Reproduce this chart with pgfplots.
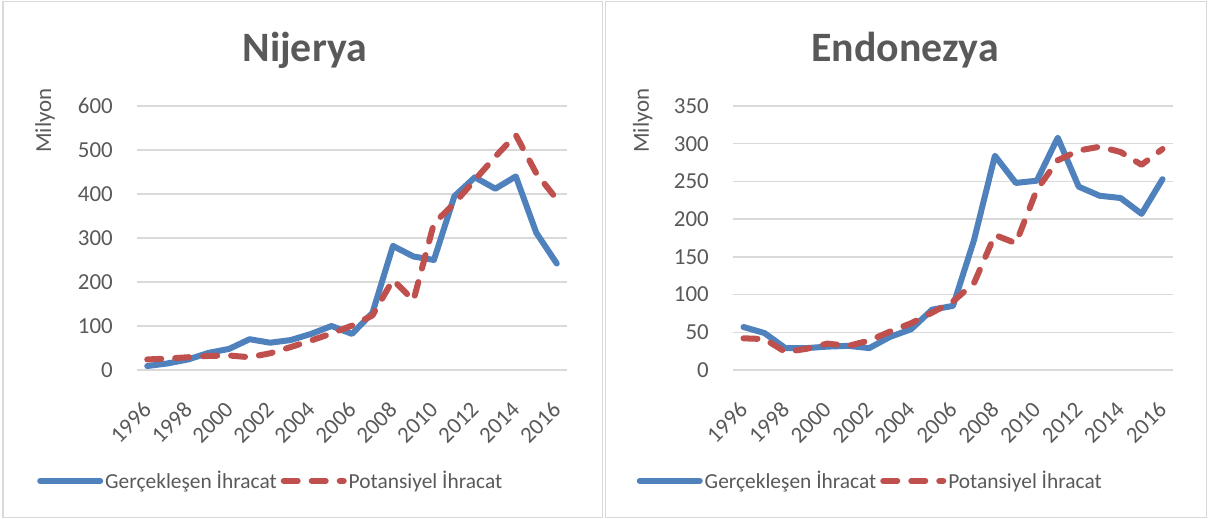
\documentclass[border=0pt]{standalone}
\usepackage{fontspec}
\setmainfont{Carlito}
\usepackage{pgfplots}
\pgfplotsset{compat=1.18}
\definecolor{cblue}{HTML}{4F81BD}
\definecolor{cred}{HTML}{C0504D}
\definecolor{ctext}{HTML}{595959}
\definecolor{cgrid}{HTML}{D9D9D9}
\pgfplotsset{
  panel/.style={
    scale only axis, height=264bp,
    xmin=1995.5, xmax=2016.5, ymin=0,
    clip mode=individual,
    axis line style={draw=none},
    major tick length=0pt,
    ymajorgrids, grid style={cgrid, line width=1.5bp},
    xtick={1996,1998,...,2016},
    xticklabels={1996,1998,2000,2002,2004,2006,2008,2010,2012,2014,2016},
    tick label style={font=\fontsize{23}{27}\selectfont, text=ctext},
    /pgf/number format/assume math mode=true,
    yticklabel style={inner sep=0pt, xshift=-24bp},
    xticklabel style={inner sep=0pt, xshift=0bp, yshift=-36bp, rotate=45, anchor=east},
    legend columns=2,
    legend style={draw=none, fill=none, font=\fontsize{21.5}{26}\selectfont, text=ctext,
      anchor=center, /tikz/every even column/.append style={column sep=2bp},
      /tikz/every odd column/.append style={column sep=0bp}},
    legend image code/.code={\draw[#1] (0bp,0bp) -- (60bp,0bp);},
  },
  blueline/.style={cblue, line width=6bp, line join=round, line cap=round, mark=none},
  redline/.style={cred, line width=6bp, line join=round, line cap=round, mark=none, dash pattern=on 14bp off 14bp},
}
\begin{document}
\begin{tikzpicture}
\useasboundingbox (0bp,0bp) rectangle (1208bp,519bp);
\draw[cgrid, line width=1.2bp] (3bp,1.5bp) rectangle (602.5bp,517.5bp);
\draw[cgrid, line width=1.2bp] (605.5bp,1.5bp) rectangle (1206.5bp,517.5bp);

\begin{axis}[panel, at={(137bp,149bp)}, anchor=south west, width=430bp,
  ymax=600, ytick={0,100,...,600},
  legend style={at={(axis description cs:0.311,-0.42)}}]
\addplot[blueline] coordinates {
(1996,9) (1997,15) (1998,24) (1999,39) (2000,48) (2001,70) (2002,62) (2003,68) (2004,82) (2005,100) (2006,82) (2007,130) (2008,282) (2009,258) (2010,250) (2011,395) (2012,438) (2013,412) (2014,440) (2015,312) (2016,242)};
\addlegendentry{Gerçekleşen İhracat}
\addplot[redline] coordinates {
(1996,24) (1997,26) (1998,29) (1999,32) (2000,33) (2001,29) (2002,38) (2003,52) (2004,67) (2005,83) (2006,101) (2007,124) (2008,205) (2009,158) (2010,333) (2011,379) (2012,432) (2013,485) (2014,534) (2015,447) (2016,388)};
\addlegendentry{Potansiyel İhracat}
\node[font=\fontsize{23}{27}\selectfont, text=ctext, rotate=90] at (axis description cs:-0.214,0.945) {Milyon};
\node[font=\fontsize{42}{50}\selectfont\bfseries, text=ctext] at (axis description cs:0.39,1.212) {Nijerya};
\end{axis}

\begin{axis}[panel, at={(733bp,149bp)}, anchor=south west, width=440bp,
  ymax=350, ytick={0,50,...,350},
  legend style={at={(axis description cs:0.312,-0.42)}}]
\addplot[blueline] coordinates {
(1996,57) (1997,49) (1998,29) (1999,29) (2000,31) (2001,32) (2002,29) (2003,44) (2004,54) (2005,80) (2006,85) (2007,172) (2008,284) (2009,248) (2010,251) (2011,308) (2012,243) (2013,231) (2014,228) (2015,207) (2016,253)};
\addlegendentry{Gerçekleşen İhracat}
\addplot[redline] coordinates {
(1996,42) (1997,41) (1998,24) (1999,28) (2000,35) (2001,32) (2002,39) (2003,51) (2004,62) (2005,76) (2006,91) (2007,115) (2008,179) (2009,168) (2010,239) (2011,278) (2012,291) (2013,296) (2014,289) (2015,272) (2016,293)};
\addlegendentry{Potansiyel İhracat}
\node[font=\fontsize{23}{27}\selectfont, text=ctext, rotate=90] at (axis description cs:-0.205,0.945) {Milyon};
\node[font=\fontsize{42}{50}\selectfont\bfseries, text=ctext] at (axis description cs:0.391,1.212) {Endonezya};
\end{axis}
\end{tikzpicture}
\end{document}
